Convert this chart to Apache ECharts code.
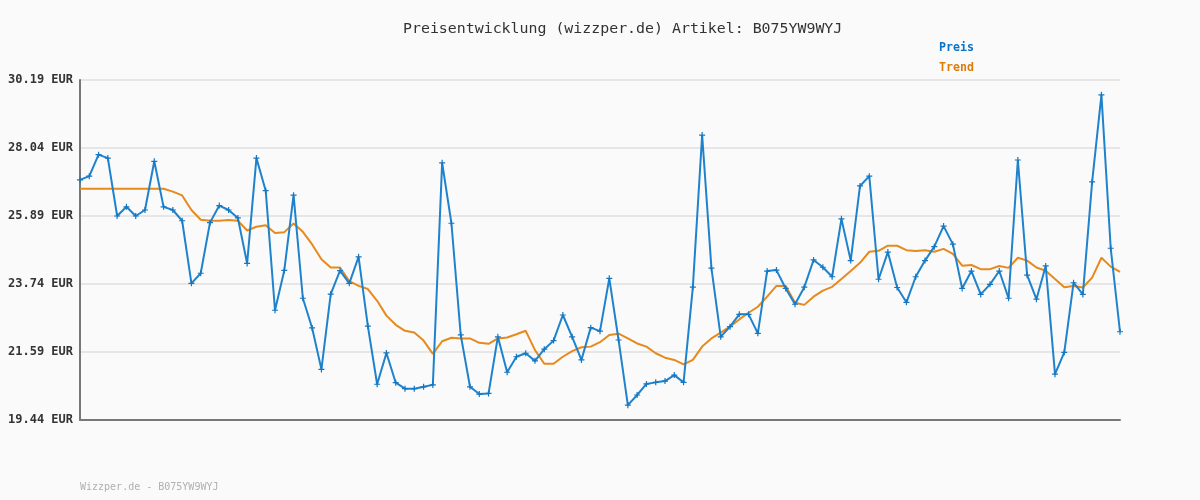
<!DOCTYPE html>
<html>
<head>
<meta charset="utf-8">
<script src="https://cdn.jsdelivr.net/npm/echarts@6/dist/echarts.min.js"></script>
<style>
html,body{margin:0;padding:0;background:#fafafa;}
#chart{width:1200px;height:500px;}
</style>
</head>
<body>
<div id="chart"></div>
<script>
var preis = [27.03,27.15,27.83,27.72,25.89,26.18,25.89,26.08,27.62,26.18,
26.08,25.74,23.76,24.08,25.68,26.22,26.08,25.83,24.39,27.72,
26.69,22.91,24.17,26.55,23.29,22.35,21.04,23.42,24.16,23.76,
24.60,22.41,20.57,21.56,20.62,20.43,20.43,20.49,20.55,27.57,
25.66,22.13,20.49,20.26,20.28,22.07,20.95,21.44,21.55,21.31,
21.68,21.95,22.76,22.07,21.34,22.36,22.25,23.92,21.97,19.91,
20.23,20.58,20.63,20.67,20.86,20.63,23.64,28.45,24.24,22.07,
22.39,22.78,22.78,22.18,24.15,24.18,23.60,23.10,23.64,24.50,
24.27,23.97,25.80,24.48,26.84,27.15,23.89,24.75,23.63,23.16,
23.97,24.48,24.92,25.57,25.00,23.60,24.15,23.41,23.73,24.15,
23.29,27.66,24.02,23.26,24.31,20.89,21.58,23.78,23.41,26.97,
29.72,24.87,22.23];
var trend = [26.75,26.75,26.75,26.75,26.75,26.75,26.75,26.75,26.75,26.75,
26.66,26.54,26.08,25.77,25.74,25.74,25.76,25.74,25.43,25.55,
25.60,25.35,25.38,25.65,25.39,24.99,24.52,24.26,24.26,23.83,
23.68,23.58,23.21,22.74,22.45,22.26,22.21,21.95,21.53,21.93,
22.04,22.02,22.02,21.88,21.85,22.02,22.05,22.15,22.26,21.65,
21.22,21.22,21.44,21.62,21.74,21.76,21.90,22.13,22.17,22.02,
21.86,21.76,21.55,21.41,21.34,21.20,21.34,21.76,22.02,22.20,
22.39,22.62,22.83,23.02,23.34,23.68,23.68,23.15,23.08,23.34,
23.53,23.65,23.90,24.15,24.41,24.76,24.79,24.95,24.95,24.81,
24.78,24.81,24.76,24.85,24.69,24.32,24.34,24.21,24.21,24.31,
24.25,24.57,24.48,24.26,24.16,23.90,23.64,23.68,23.63,23.94,
24.57,24.29,24.12];
var categories = preis.map(function(_, i){ return String(i + 1); });
var yMin = 19.44, yMax = 30.19, yStep = 2.15;
var title = 'Preisentwicklung (wizzper.de) Artikel: B075YW9WYJ';
var footer = 'Wizzper.de - B075YW9WYJ';

var mono = '"DejaVu Sans Mono", monospace';
var chart = echarts.init(document.getElementById('chart'), null, {renderer:'canvas'});
chart.setOption({
  backgroundColor: '#fafafa',
  animation: false,
  title: {
    text: title, left: 398, top: 17,
    textStyle: {fontFamily: mono, fontSize: 14.9, fontWeight: 'normal', color: '#333'}
  },
  legend: {
    orient: 'vertical', left: 929, top: 36, icon: 'none',
    itemWidth: 0, itemHeight: 14, itemGap: 7,
    selectedMode: false,
    data: [
      {name: 'Preis', textStyle: {color: '#0b74c4'}},
      {name: 'Trend', textStyle: {color: '#de7c08'}}
    ],
    textStyle: {fontFamily: mono, fontSize: 11.6, fontWeight: 'bold'}
  },
  graphic: [{
    type: 'text', left: 80, top: 482,
    style: {text: footer, fill: '#b0b0b0', font: '10px ' + mono}
  }],
  grid: {left: 80, right: 80, top: 80, bottom: 80, containLabel: false},
  xAxis: {
    type: 'category', data: categories, boundaryGap: false,
    axisLine: {show: true, lineStyle: {color: '#777', width: 2}},
    axisTick: {show: false}, axisLabel: {show: false}, splitLine: {show: false}
  },
  yAxis: {
    type: 'value', min: yMin, max: yMax, interval: yStep,
    axisLine: {show: true, lineStyle: {color: '#777', width: 2}},
    axisTick: {show: false},
    axisLabel: {
      margin: 7, fontFamily: mono, fontSize: 12, fontWeight: 'bold', color: '#333',
      formatter: function(v){ return v.toFixed(2) + ' EUR'; }
    },
    splitLine: {show: true, lineStyle: {color: '#e6e6e6', width: 2}}
  },
  series: [
    {
      name: 'Trend', type: 'line', data: trend, showSymbol: false, symbol: 'none',
      lineStyle: {color: '#e68a1e', width: 2}, itemStyle: {color: '#e68a1e'}, z: 2
    },
    {
      name: 'Preis', type: 'line', data: preis,
      symbol: 'path://M2,0H3V2H5V3H3V5H2V3H0V2H2Z', symbolSize: 6, showAllSymbol: true,
      lineStyle: {color: '#1f82cc', width: 2}, itemStyle: {color: '#1577c0'}, z: 3
    }
  ]
});
</script>
</body>
</html>
